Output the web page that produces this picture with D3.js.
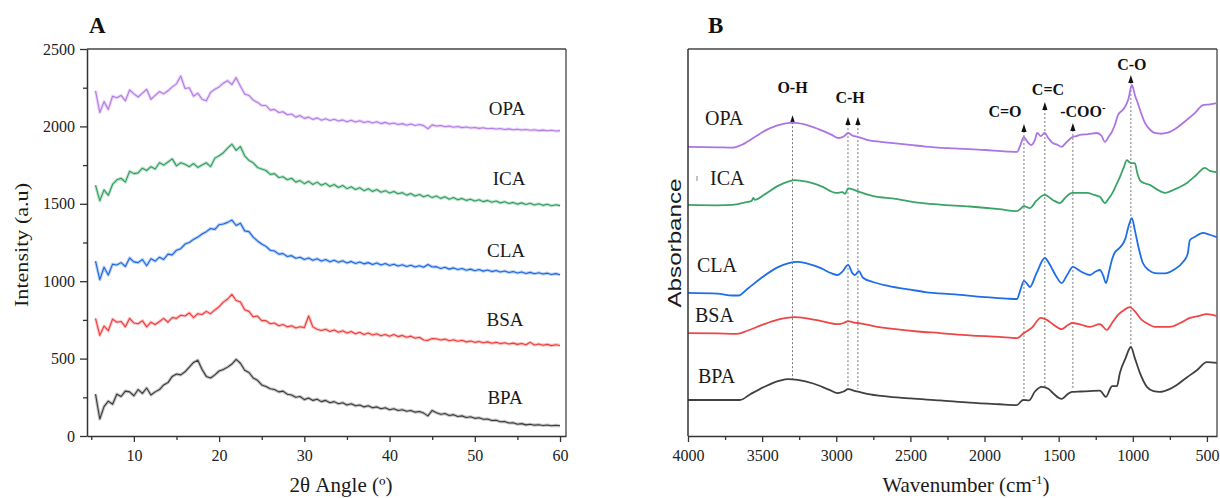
<!DOCTYPE html>
<html><head><meta charset="utf-8">
<script src="https://cdn.jsdelivr.net/npm/d3@7"></script>
<style>body{margin:0;background:#fff}svg{display:block}</style>
</head><body>
<script>
// ---------- Panel A : XRD ----------
const angles = [5.5,6,6.5,7,7.5,8,8.5,9,9.5,10,10.5,11,11.5,12,12.5,13,13.5,14,14.5,15,15.5,16,16.5,17,17.5,18,18.5,19,19.5,20,20.5,21,21.5,22,22.5,23,23.5,24,24.5,25,25.5,26,26.5,27,27.5,28,28.5,29,29.5,30,30.5,31,31.5,32,32.5,33,33.5,34,34.5,35,35.5,36,36.5,37,37.5,38,38.5,39,39.5,40,40.5,41,41.5,42,42.5,43,43.5,44,44.5,45,45.5,46,46.5,47,47.5,48,48.5,49,49.5,50,50.5,51,51.5,52,52.5,53,53.5,54,54.5,55,55.5,56,56.5,57,57.5,58,58.5,59,59.5,60];
const xrdOPA = [2230,2090,2160,2110,2195,2185,2200,2165,2235,2210, 2190,2215,2240,2175,2200,2225,2210,2230,2255,2275, 2325,2245,2250,2195,2215,2175,2165,2220,2240,2255, 2280,2295,2270,2315,2260,2210,2200,2170,2155,2135, 2135,2105,2110,2090,2095,2075,2080,2060,2070,2052, 2060,2045,2055,2040,2050,2038,2046,2035,2042,2030, 2040,2028,2036,2025,2032,2022,2030,2018,2026,2015, 2022,2012,2018,2008,2015,2006,2012,2005,1985,2010, 2002,2006,1998,2002,1995,1999,1992,1996,1990,1993, 1987,1991,1985,1988,1983,1986,1980,1984,1978,1982, 1977,1980,1975,1978,1973,1976,1972,1975,1970,1973];
const xrdICA = [1620,1520,1590,1555,1625,1655,1665,1640,1710,1695, 1700,1730,1715,1740,1725,1765,1750,1770,1790,1745, 1765,1755,1740,1760,1735,1750,1765,1740,1795,1810, 1830,1860,1885,1845,1870,1810,1780,1765,1735,1725, 1715,1690,1695,1670,1675,1655,1665,1640,1650,1630, 1645,1625,1640,1620,1632,1612,1625,1605,1618,1598, 1610,1592,1604,1585,1598,1580,1592,1575,1585,1570, 1580,1565,1572,1556,1566,1550,1560,1545,1555,1540, 1550,1535,1545,1530,1540,1526,1535,1522,1530,1518, 1526,1514,1522,1510,1518,1506,1513,1502,1509,1498, 1506,1495,1503,1492,1500,1490,1497,1487,1494,1488];
const xrdCLA = [1130,1010,1090,1040,1110,1105,1120,1095,1150,1125, 1120,1140,1100,1145,1130,1155,1140,1175,1170,1200, 1210,1240,1250,1270,1285,1305,1320,1340,1335,1365, 1370,1380,1395,1360,1375,1325,1320,1285,1260,1240, 1225,1200,1195,1175,1178,1160,1165,1148,1155,1140, 1150,1135,1145,1130,1140,1125,1136,1122,1132,1118, 1128,1115,1124,1112,1120,1108,1118,1105,1114,1102, 1110,1098,1106,1095,1103,1092,1100,1090,1108,1092, 1094,1082,1090,1078,1086,1075,1082,1071,1078,1068, 1075,1065,1072,1062,1069,1059,1066,1056,1062,1053, 1060,1050,1057,1048,1055,1046,1052,1043,1049,1042];
const xrdBSA = [760,650,710,680,755,735,740,705,760,730, 725,745,705,735,720,740,760,735,765,760, 780,775,795,765,790,785,805,790,815,835, 865,885,915,875,865,815,805,770,775,745, 745,725,730,712,720,705,712,698,706,700, 775,705,690,682,690,675,685,670,680,665, 675,660,670,655,665,652,660,648,656,645, 655,642,650,638,645,632,638,620,618,630, 628,620,626,615,622,612,618,608,614,605, 611,602,608,599,605,597,602,594,600,592, 598,590,605,588,594,586,592,584,590,585];
const xrdBPA = [270,110,190,225,205,270,255,290,285,260, 300,275,310,265,285,300,330,345,385,400, 395,415,445,475,490,430,385,375,395,420, 430,445,465,495,470,425,410,375,360,330, 320,305,300,285,290,270,265,250,255,235, 245,230,238,222,230,215,222,208,215,200, 208,195,200,188,195,182,188,176,182,170, 176,165,170,160,165,154,158,148,130,165, 150,140,145,132,138,126,130,120,124,114, 118,108,110,100,102,92,94,84,86,76, 80,72,76,70,73,68,71,66,69,66];
const xrdNames = ["OPA","ICA","CLA","BSA","BPA"];
const xrdSeries = [xrdOPA, xrdICA, xrdCLA, xrdBSA, xrdBPA];
const xrdColors = ["#b47ae6","#2f9e5e","#1c66e0","#ee3b3b","#3a3a3a"];
const xTicksA = [10,20,30,40,50,60];
const xMinorA = [5,15,25,35,45,55];
const yTicksA = [0,500,1000,1500,2000,2500];
const yMinorA = [250,750,1250,1750,2250];

// ---------- Panel B : FTIR ----------
const opaWn = [4000,3800,3700,3640,3560,3450,3350,3290,3220,3120,3030,2985,2950,2920,2890,2855,2800,2700,2600,2500,2400,2200,2000,1850,1780,1760,1735,1710,1685,1660,1645,1620,1595,1570,1540,1510,1480,1450,1410,1380,1357,1300,1242,1210,1188,1160,1141,1120,1100,1075,1053,1030,1006,985,966,940,918,880,851,810,770,720,680,635,580,527,480,433];
const opaAbs = [74.7,74.6,74.5,75.2,77.0,79.5,80.7,81.0,80.6,79.3,77.8,77.0,77.4,78.3,77.6,77.3,76.6,76.0,75.6,75.2,74.8,74.3,73.9,73.5,73.4,75.0,77.2,76.0,75.2,76.5,78.3,77.5,78.3,77.0,75.7,75.3,74.7,75.8,77.2,77.5,77.8,78.0,78.3,77.5,76.0,77.5,78.6,80.5,82.9,84.0,85.0,87.0,90.7,88.0,86.0,83.0,80.9,79.0,78.3,78.1,78.3,79.2,80.3,81.7,83.5,85.5,85.7,86.0];
const icaWn = [4000,3800,3700,3620,3570,3560,3550,3480,3400,3320,3280,3200,3100,3000,2960,2940,2920,2880,2840,2750,2600,2450,2300,2100,1900,1780,1760,1734,1694,1650,1593,1540,1492,1450,1410,1350,1310,1260,1222,1188,1160,1134,1110,1087,1060,1040,1025,1006,986,970,952,920,885,840,784,720,635,570,514,480,433];
const icaAbs = [59.7,59.6,59.7,60.3,60.8,61.5,61.0,62.5,64.5,65.8,66.1,65.7,64.5,62.8,63.0,62.6,64.0,63.6,63.0,62.0,61.3,60.3,59.8,59.3,58.6,58.1,58.6,59.4,58.9,60.8,62.3,61.0,60.2,61.8,62.8,62.8,62.8,62.3,61.8,60.2,61.5,63.0,65.0,66.9,69.5,71.3,70.8,70.5,70.5,68.0,66.1,65.3,64.9,63.8,62.8,63.7,65.4,67.5,69.3,68.5,68.2];
const claWn = [4000,3800,3700,3660,3600,3500,3400,3320,3265,3200,3100,3030,2990,2960,2920,2890,2874,2847,2820,2752,2650,2500,2400,2200,2000,1850,1782,1760,1734,1710,1694,1650,1593,1560,1520,1480,1440,1404,1350,1290,1250,1222,1200,1181,1160,1141,1120,1107,1080,1050,1030,1006,985,960,932,890,851,800,770,720,660,630,615,580,527,480,433];
const claAbs = [37.0,36.8,36.3,36.3,38.0,41.0,43.5,44.7,45.0,44.6,43.3,42.0,41.6,42.4,44.2,42.0,41.6,42.6,40.9,39.8,38.8,37.8,37.2,36.6,35.9,35.5,35.4,37.5,40.1,39.2,38.5,42.0,46.0,44.3,41.5,39.5,41.8,43.7,42.5,41.6,42.5,42.9,41.5,39.5,42.5,45.5,47.5,48.0,49.0,51.0,54.0,56.3,53.0,48.5,44.7,42.8,42.1,42.0,42.1,43.0,45.0,47.0,50.6,51.5,52.5,52.0,51.4];
const bsaWn = [4000,3800,3670,3600,3500,3400,3280,3200,3100,2990,2950,2920,2880,2855,2750,2600,2450,2300,2100,1900,1782,1734,1680,1620,1580,1539,1480,1440,1410,1350,1290,1222,1175,1140,1100,1060,1020,990,939,900,851,750,680,615,560,500,433];
const bsaAbs = [26.6,26.5,26.4,27.2,28.7,30.0,30.7,30.4,29.7,28.9,29.2,29.7,29.3,29.2,28.4,27.6,27.0,26.6,26.0,25.6,25.3,26.6,28.0,30.5,30.0,28.9,27.6,28.6,29.2,28.8,28.2,28.9,27.4,29.2,31.3,32.5,33.3,32.4,30.0,29.0,28.2,28.2,29.2,30.5,31.0,31.5,31.0];
const bpaWn = [4000,3800,3650,3580,3480,3380,3325,3260,3150,3050,2990,2950,2920,2870,2793,2650,2500,2300,2100,1900,1782,1740,1700,1660,1613,1570,1539,1480,1440,1410,1350,1290,1222,1181,1155,1141,1107,1087,1050,1013,985,952,905,860,818,760,703,640,568,500,433];
const bpaAbs = [9.3,9.3,9.3,10.8,12.8,14.3,14.7,14.5,13.5,12.0,11.1,11.5,12.1,11.6,10.9,10.2,9.7,9.2,8.6,8.2,8.0,9.3,9.2,11.5,12.7,12.2,11.1,9.6,10.8,11.4,11.5,11.6,11.7,10.1,12.0,12.9,12.9,16.3,20.0,23.0,20.0,16.3,12.7,11.6,11.4,12.0,13.2,15.0,17.0,19.1,18.9];
const ftirNames = ["OPA","ICA","CLA","BSA","BPA"];
const ftirWn = [opaWn, icaWn, claWn, bsaWn, bpaWn];
const ftirAbs = [opaAbs, icaAbs, claAbs, bsaAbs, bpaAbs];
const ftirColors = ["#ac74e4","#3aa468","#1f6ee8","#ee4646","#404040"];
const xTicksB = [4000,3500,3000,2500,2000,1500,1000,500];
const xMinorB = [3750,3250,2750,2250,1750,1250,750];

// annotation lines (wavenumber, arrow tip, bottom end)
const annWn = [3295,2921,2854,1734,1593,1404,1013];
const annTip = [82.9,82.4,82.4,80.6,86.3,80.9,93.3];
const annBottom = [14.7,12.1,12.1,9.3,12.4,12.4,23.0];
const annLabels = ["O-H","C-H","C=O","C=C","-COO","C-O"];
const annLabelWn = [3295,2907,1862,1572,1336,1006];
const annLabelY = [88.6,86.0,82.4,88.1,82.4,94.6];

// ---------- drawing ----------
const serif = "Liberation Serif";
const sans = "Liberation Sans";
const fmt = d3.format("d");
const svg = d3.select("body").append("svg").attr("width",1220).attr("height",498);
svg.append("rect").attr("width",1220).attr("height",498).attr("fill","#fff");

function styleAxis(g, fs){
  g.attr("font-family",null).attr("font-size",null);
  g.select(".domain").attr("stroke","#333").attr("stroke-width",1.5);
  g.selectAll(".tick line").attr("stroke","#333").attr("stroke-width",1.3);
  g.selectAll(".tick text").style("font-family",serif).style("font-size",fs+"px").attr("fill","#222");
}
function txt(g, family, size, weight){
  return g.append("text").style("font-family",family).style("font-size",size+"px").style("font-weight",weight||"normal").attr("fill","#1a1a1a");
}

// Panel A
const xA = d3.scaleLinear().domain([4.5,60.7]).range([87,566]);
const yA = d3.scaleLinear().domain([0,2500]).range([436,49]);
const gA = svg.append("g");
gA.append("line").attr("x1",87).attr("x2",566).attr("y1",49).attr("y2",49).attr("stroke","#444").attr("stroke-width",1.3);
gA.append("line").attr("x1",566).attr("x2",566).attr("y1",49).attr("y2",436).attr("stroke","#444").attr("stroke-width",1.3);
const lineA = d3.line().x((d,i)=>xA(angles[i])).y(d=>yA(d));
xrdSeries.forEach((s,k)=>{
  gA.append("path").attr("d",lineA(s)).attr("fill","none").attr("stroke",xrdColors[k]).attr("stroke-width",3.2).attr("stroke-opacity",0.3).attr("stroke-linejoin","round");
  gA.append("path").attr("d",lineA(s)).attr("fill","none").attr("stroke",xrdColors[k]).attr("stroke-width",1.1).attr("stroke-linejoin","round");
});
const axA = gA.append("g").attr("transform","translate(0,436)")
  .call(d3.axisBottom(xA).tickValues(xTicksA).tickFormat(fmt).tickSize(6).tickSizeOuter(0).tickPadding(8));
styleAxis(axA,16);
const axAm = gA.append("g").attr("transform","translate(0,436)")
  .call(d3.axisBottom(xA).tickValues(xMinorA).tickSize(4).tickFormat(""));
axAm.select(".domain").remove(); axAm.selectAll(".tick line").attr("stroke","#333").attr("stroke-width",1.3);
const ayA = gA.append("g").attr("transform","translate(87,0)")
  .call(d3.axisLeft(yA).tickValues(yTicksA).tickFormat(fmt).tickSize(7).tickSizeOuter(0).tickPadding(5));
styleAxis(ayA,16);
const ayAm = gA.append("g").attr("transform","translate(87,0)")
  .call(d3.axisLeft(yA).tickValues(yMinorA).tickSize(4).tickFormat(""));
ayAm.select(".domain").remove(); ayAm.selectAll(".tick line").attr("stroke","#333").attr("stroke-width",1.3);
const labA = [[507,115],[509,185],[506,257],[505,326],[505,404]];
xrdNames.forEach((n,k)=>{
  txt(gA, serif, 19).attr("x",labA[k][0]).attr("y",labA[k][1]).attr("text-anchor","middle").text(n);
});
txt(gA, serif, 23, "bold").attr("x",89).attr("y",33).attr("fill","#111").text("A");
txt(gA, serif, 19).attr("transform","translate(28,245) rotate(-90)").attr("text-anchor","middle")
  .attr("textLength",124).attr("lengthAdjust","spacingAndGlyphs").text("Intensity (a.u)");
txt(gA, serif, 20).attr("x",341).attr("y",492).attr("text-anchor","middle")
  .attr("textLength",103).attr("lengthAdjust","spacingAndGlyphs").text("2θ Angle  (º)");

// Panel B
const xB = d3.scaleLinear().domain([4000,432]).range([688,1217]);
const yB = d3.scaleLinear().domain([0,100]).range([436,49]);
const gB = svg.append("g");
gB.append("line").attr("x1",688).attr("x2",1217).attr("y1",49).attr("y2",49).attr("stroke","#444").attr("stroke-width",1.3);
gB.append("line").attr("x1",1217).attr("x2",1217).attr("y1",49).attr("y2",436).attr("stroke","#444").attr("stroke-width",1.3);
annWn.forEach((w,i)=>{
  const tipY = yB(annTip[i]);
  gB.append("line").attr("x1",xB(w)).attr("x2",xB(w)).attr("y1",tipY+7).attr("y2",yB(annBottom[i]))
    .attr("stroke","#777").attr("stroke-width",1).attr("stroke-dasharray","2,2");
  gB.append("path").attr("d",`M${xB(w)},${tipY} L${xB(w)-2.6},${tipY+8} L${xB(w)+2.6},${tipY+8} Z`).attr("fill","#111");
});
const lineB = d3.line().curve(d3.curveMonotoneX);
ftirWn.forEach((wn,k)=>{
  const pts = d3.zip(wn, ftirAbs[k]).map(([w,a])=>[xB(w),yB(a)]);
  gB.append("path").attr("d",lineB(pts)).attr("fill","none").attr("stroke",ftirColors[k]).attr("stroke-width",1.8).attr("stroke-linejoin","round");
});
const axB = gB.append("g").attr("transform","translate(0,436)")
  .call(d3.axisBottom(xB).tickValues(xTicksB).tickFormat(fmt).tickSize(6).tickSizeOuter(0).tickPadding(8));
styleAxis(axB,16);
const axBm = gB.append("g").attr("transform","translate(0,436)")
  .call(d3.axisBottom(xB).tickValues(xMinorB).tickSize(4).tickFormat(""));
axBm.select(".domain").remove(); axBm.selectAll(".tick line").attr("stroke","#333").attr("stroke-width",1.3);
gB.append("line").attr("x1",688).attr("x2",688).attr("y1",49).attr("y2",436).attr("stroke","#333").attr("stroke-width",1.5);
annLabels.forEach((t,i)=>{
  const tx = txt(gB, serif, 16, "bold").attr("x",xB(annLabelWn[i])).attr("y",yB(annLabelY[i])).attr("text-anchor","middle").attr("fill","#111").text(t);
  if(t==="-COO") tx.append("tspan").attr("dy",-6).style("font-size","11px").text("-");
});
const labB = [[705,125],[710,185],[697,272],[695,322],[698,383]];
ftirNames.forEach((n,k)=>{
  txt(gB, serif, 20).attr("x",labB[k][0]).attr("y",labB[k][1]).text(n);
});
gB.append("line").attr("x1",697).attr("x2",697).attr("y1",176).attr("y2",181).attr("stroke","#888").attr("stroke-width",1);
txt(gB, serif, 23, "bold").attr("x",708).attr("y",33).attr("fill","#111").text("B");
txt(gB, sans, 18).attr("transform","translate(681,243) rotate(-90)").attr("text-anchor","middle")
  .attr("textLength",129).attr("lengthAdjust","spacingAndGlyphs").text("Absorbance");
const wl = txt(gB, serif, 21).attr("x",966).attr("y",492).attr("text-anchor","middle");
wl.append("tspan").text("Wavenumber (cm");
wl.append("tspan").attr("dy",-8).style("font-size","13px").text("-1");
wl.append("tspan").attr("dy",8).text(")");
</script>
</body></html>
